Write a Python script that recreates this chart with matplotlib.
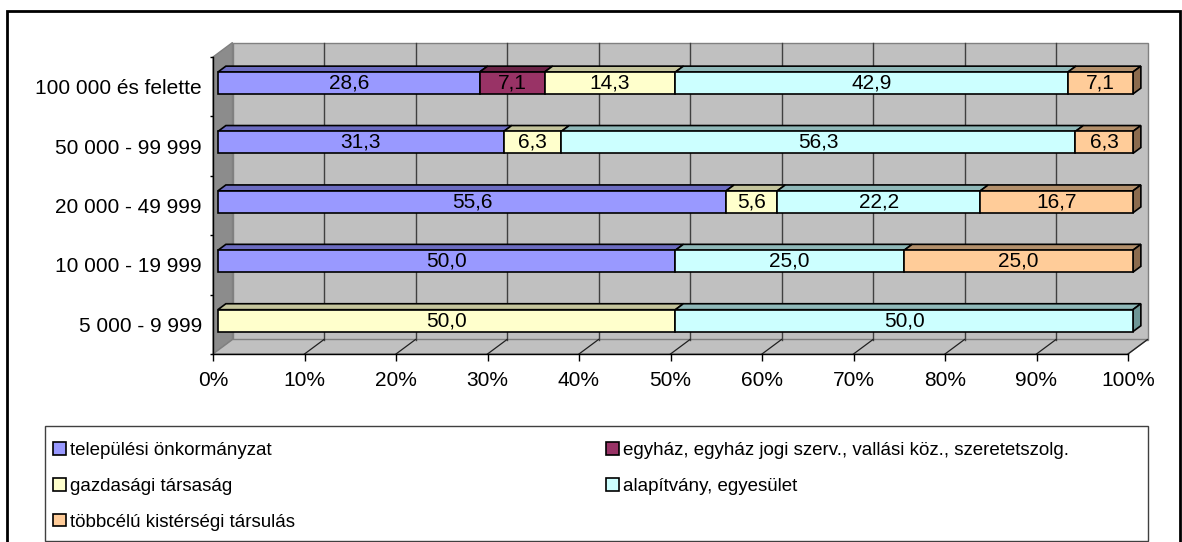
import matplotlib
matplotlib.use('Agg')
import matplotlib.pyplot as plt
from matplotlib.patches import Polygon, Rectangle
from matplotlib.ticker import FixedLocator, NullFormatter
import numpy as np

plt.rcParams['font.family'] = ['Liberation Sans', 'DejaVu Sans']

# ---------------- data ----------------
categories = ["5 000 - 9 999", "10 000 - 19 999", "20 000 - 49 999",
              "50 000 - 99 999", "100 000 és felette"]
series_names = ["települési önkormányzat",
                "egyház, egyház jogi szerv., vallási köz., szeretetszolg.",
                "gazdasági társaság",
                "alapítvány, egyesület",
                "többcélú kistérségi társulás"]
telepulesi = [0.0, 50.0, 55.6, 31.3, 28.6]
egyhaz = [0.0, 0.0, 0.0, 0.0, 7.1]
gazdasagi = [50.0, 0.0, 5.6, 6.3, 14.3]
alapitvany = [50.0, 25.0, 22.2, 56.3, 42.9]
tobbcelu = [0.0, 25.0, 16.7, 6.3, 7.1]
x_ticks = [0, 10, 20, 30, 40, 50, 60, 70, 80, 90, 100]
x_tick_labels = ["0%", "10%", "20%", "30%", "40%", "50%", "60%", "70%", "80%", "90%", "100%"]

front_colors = ['#9999FF', '#993366', '#FFFFCC', '#CCFFFF', '#FFCC99']
top_colors = ['#6C6CC0', '#6B2447', '#C4C49C', '#8FB8B8', '#B3906C']
side_colors = ['#5A5AA0', '#4F1A35', '#9E9E7C', '#6E9696', '#8B6B4E']

series = [telepulesi, egyhaz, gazdasagi, alapitvany, tobbcelu]
vals = np.array(series, dtype=float).T  # rows = categories

# ---------------- figure ----------------
W, H = 1182, 542
fig = plt.figure(figsize=(W / 100, H / 100), dpi=100)
fig.patch.set_facecolor('white')

ax = fig.add_axes([213 / W, 1 - 354 / H, 915 / W, 297 / H])
ax.set_xlim(0, 100)
ax.set_ylim(0, len(categories))
ax.patch.set_visible(False)

# 3D depth offsets (style)
DX = 19.5 * 100 / 915
DY = 14.5 * len(categories) / 297
NC = len(categories)

wall_c = '#C0C0C0'
# back wall
ax.add_patch(Rectangle((DX, DY), 100, NC, fc=wall_c, ec='#808080', lw=1, zorder=0.5, clip_on=False))
# left wall
ax.add_patch(Polygon([(0, 0), (DX, DY), (DX, NC + DY), (0, NC)], closed=True,
                     fc='#8C8C8C', ec='#808080', lw=1, zorder=0.6, clip_on=False))
# floor
ax.add_patch(Polygon([(0, 0), (100, 0), (100 + DX, DY), (DX, DY)], closed=True,
                     fc=wall_c, ec='#808080', lw=1, zorder=0.6, clip_on=False))
# grid lines on back wall and floor
for t in x_ticks[1:-1]:
    ax.plot([t + DX, t + DX], [DY, NC + DY], color='#404040', lw=1, zorder=0.7, clip_on=False)
for t in x_ticks[1:]:
    ax.plot([t, t + DX], [0, DY], color='#202020', lw=0.9, zorder=0.7, clip_on=False)

# bars
z1, z2 = 0.25, 0.66
h = 0.185
d1x, d1y = z1 * DX, z1 * DY
d2x, d2y = z2 * DX, z2 * DY
for i in range(NC):
    row = vals[i]
    total = row.sum()
    cum = np.concatenate([[0], np.cumsum(row)]) / total * 100
    nz = [j for j in range(len(row)) if row[j] > 0]
    last = nz[-1]
    yc = i + 0.5
    yb, yt = yc - h, yc + h
    for j in nz:
        L, R = cum[j], cum[j + 1]
        # top face
        ax.add_patch(Polygon([(L + d1x, yt + d1y), (R + d1x, yt + d1y),
                              (R + d2x, yt + d2y), (L + d2x, yt + d2y)], closed=True,
                             fc=top_colors[j], ec='black', lw=1.2, zorder=2, clip_on=False))
        # front face
        ax.add_patch(Rectangle((L + d1x, yb + d1y), R - L, 2 * h, fc=front_colors[j],
                               ec='black', lw=1.2, zorder=2.1, clip_on=False))
        if j == last:
            ax.add_patch(Polygon([(R + d1x, yb + d1y), (R + d1x, yt + d1y),
                                  (R + d2x, yt + d2y), (R + d2x, yb + d2y)], closed=True,
                                 fc=side_colors[j], ec='black', lw=1.2, zorder=2, clip_on=False))
        ax.text((L + R) / 2 + d1x, yc + d1y, f"{row[j]:.1f}".replace('.', ','),
                ha='center', va='center', fontsize=15, color='black', zorder=3)

# axes
for s in ['top', 'right']:
    ax.spines[s].set_visible(False)
for s in ['left', 'bottom']:
    ax.spines[s].set_color('black')
    ax.spines[s].set_linewidth(1)
    ax.spines[s].set_zorder(1)

ax.set_xticks(x_ticks)
ax.set_xticklabels(x_tick_labels, fontsize=15)
ax.tick_params(axis='x', direction='out', length=5, width=1, pad=7, color='black')

ax.yaxis.set_major_locator(FixedLocator(list(range(NC + 1))))
ax.yaxis.set_major_formatter(NullFormatter())
ax.yaxis.set_minor_locator(FixedLocator([i + 0.5 for i in range(NC)]))
ax.set_yticklabels(categories, minor=True, fontsize=15)
ax.tick_params(axis='y', which='major', direction='out', length=2.5, width=1, color='black')
ax.tick_params(axis='y', which='minor', length=0, pad=8)

# legend (frame drawn separately)
fig.patches.append(Rectangle((45 / W, 1 - 541 / H), (1148 - 45) / W, (541 - 426) / H,
                             transform=fig.transFigure, fill=True, fc='white',
                             ec='#404040', lw=1, zorder=0))
handles = [Rectangle((0, 0), 1, 1, fc=front_colors[k], ec='black', lw=1.2) for k in range(5)]
order = [0, 2, 4, 1, 3]
leg = fig.legend([handles[k] for k in order], [series_names[k] for k in order],
                 ncol=2, loc='upper left',
                 bbox_to_anchor=(43 / W, 1 - 432 / H),
                 fontsize=13.5, frameon=False,
                 handlelength=0.65, handleheight=0.65, handletextpad=0.25,
                 labelspacing=1.0, borderpad=0.55, borderaxespad=0,
                 columnspacing=16.6)

# outer chart border
fig.patches.append(Rectangle((7 / W, -0.02), (1180 - 7) / W, 1 - 11 / H + 0.02,
                             transform=fig.transFigure, fill=False, ec='black', lw=2))

fig.savefig('out.png', dpi=100)
